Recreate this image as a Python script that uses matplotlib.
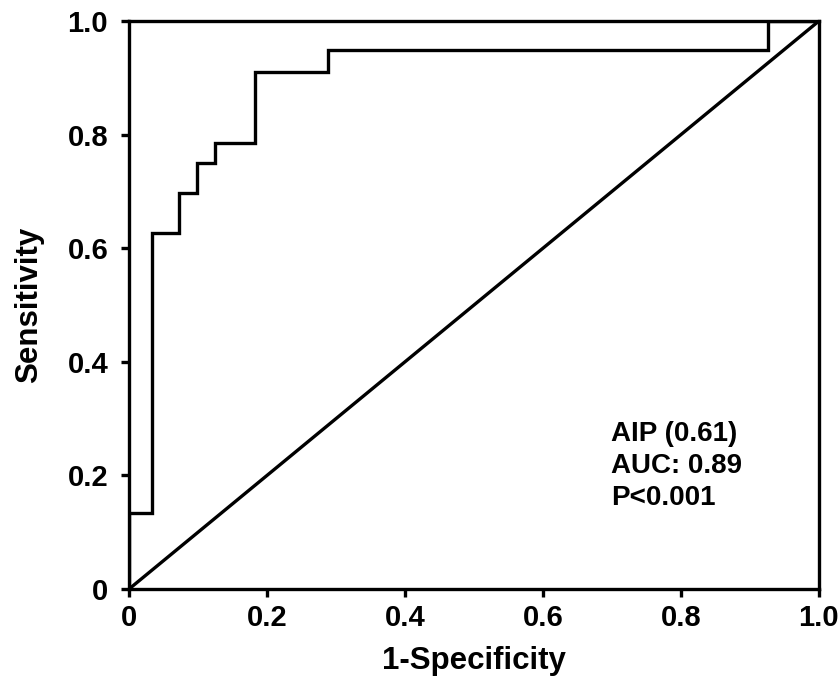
import matplotlib
matplotlib.use("Agg")
import matplotlib.pyplot as plt

# ROC step curve (1-specificity, sensitivity)
fpr = [0.0, 0.0, 0.033, 0.033, 0.072, 0.072, 0.098, 0.098, 0.124, 0.124,
       0.183, 0.183, 0.288, 0.288, 0.926, 0.926, 1.0]
tpr = [0.0, 0.133, 0.133, 0.626, 0.626, 0.698, 0.698, 0.75, 0.75, 0.786,
       0.786, 0.91, 0.91, 0.949, 0.949, 1.0, 1.0]

ticks = [0, 0.2, 0.4, 0.6, 0.8, 1.0]
tick_labels = ["0", "0.2", "0.4", "0.6", "0.8", "1.0"]
annot_lines = ["AIP (0.61)", "AUC: 0.89", "P<0.001"]

plt.rcParams["font.family"] = ["Liberation Sans", "DejaVu Sans"]
plt.rcParams["font.weight"] = "bold"

fig = plt.figure(figsize=(8.39, 6.79), dpi=100)
ax = fig.add_axes([0.1538, 0.1325, 0.8222, 0.8365])

ax.plot([0, 1], [0, 1], color="black", lw=2.4)
ax.plot(fpr, tpr, color="black", lw=2.4, solid_joinstyle="miter")

ax.set_xlim(0, 1)
ax.set_ylim(0, 1)
ax.set_xticks(ticks)
ax.set_xticklabels(tick_labels)
ax.set_yticks(ticks)
ax.set_yticklabels(tick_labels)
ax.tick_params(direction="out", length=6, width=2.4, labelsize=21)
ax.tick_params(axis="x", pad=5)
ax.tick_params(axis="y", pad=9)

for s in ax.spines.values():
    s.set_linewidth(2.4)

ax.set_xlabel("1-Specificity", fontsize=22.5, fontweight="bold", labelpad=10)
ax.set_ylabel("Sensitivity", fontsize=22.5, fontweight="bold", labelpad=17)

ax.text(0.699, 0.296, "\n".join(annot_lines), fontsize=20, fontweight="bold",
        va="top", ha="left", linespacing=1.3,
        transform=ax.transData)

fig.savefig("out.png", dpi=100)
